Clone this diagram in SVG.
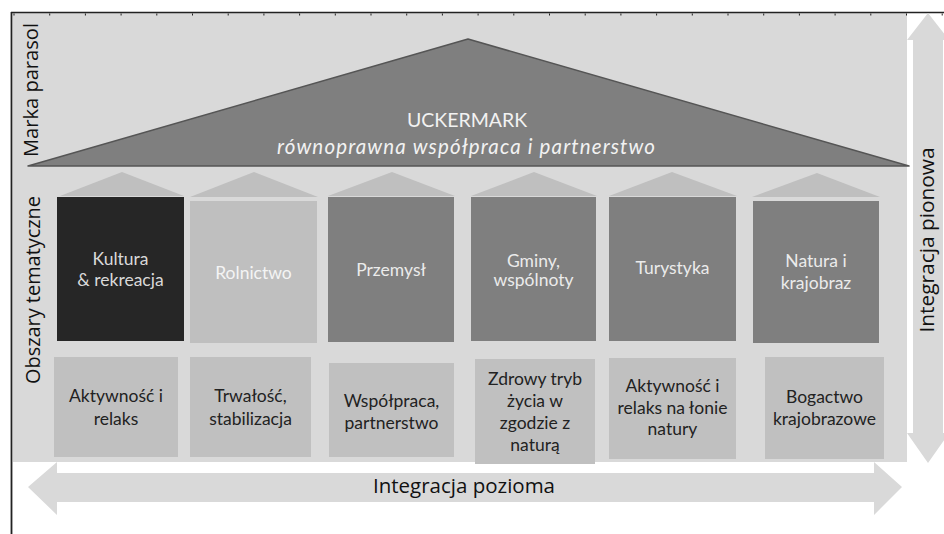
<svg xmlns="http://www.w3.org/2000/svg" width="944" height="534" viewBox="0 0 944 534">
<style>
.lbl{font-family:"Open Sans","Liberation Sans",sans-serif;font-size:20px;fill:#111;}
.col{font-family:Lato,"Liberation Sans",sans-serif;font-size:17.5px;text-anchor:middle;}
.box{font-family:Lato,"Liberation Sans",sans-serif;font-size:17.5px;fill:#222;text-anchor:middle;}
.roof{fill:#bfbfbf;}
.bx{fill:#c0c0c0;}
.arr{fill:#d9d9d9;}
</style>
<rect width="944" height="534" fill="#ffffff"/>
<!-- frame -->
<rect x="13" y="13" width="894" height="449" fill="#d9d9d9"/>
<line x1="11" y1="12.5" x2="944" y2="12.5" stroke="#222" stroke-width="1.5"/>
<line x1="13.5" y1="14.5" x2="944" y2="14.5" stroke="#222" stroke-width="2" stroke-dasharray="1 34.7"/>
<line x1="11.5" y1="12" x2="11.5" y2="534" stroke="#222" stroke-width="1.8"/>

<g id="arrows">
  <path class="arr" d="M28,487 L57,462 L57,473 L874,473 L874,462 L902,487 L874,515 L874,502 L57,502 L57,515 Z"/>
  <path class="arr" d="M928,13 L949,40 L943,40 L943,433 L949,433 L928,463 L907,433 L913,433 L913,40 L907,40 Z"/>
</g>

<g id="umbrella">
  <polygon points="28,166 468,39 909,166" fill="#7f7f7f" stroke="#555" stroke-width="1.5" stroke-linejoin="round"/>
  <text x="467" y="127" font-family="Lato,'Liberation Sans',sans-serif" font-size="19.5" fill="#f2f2f2" text-anchor="middle">UCKERMARK</text>
  <text x="466" y="154" font-family="Lato,'Liberation Sans',sans-serif" font-size="20.5" font-style="italic" fill="#f2f2f2" text-anchor="middle" textLength="378" lengthAdjust="spacing">równoprawna współpraca i partnerstwo</text>
</g>

<g id="labels">
  <text class="lbl" transform="rotate(-90 38 90)" x="38" y="90" text-anchor="middle" textLength="134" lengthAdjust="spacingAndGlyphs">Marka parasol</text>
  <text class="lbl" transform="rotate(-90 40 290)" x="40" y="290" text-anchor="middle" textLength="188" lengthAdjust="spacingAndGlyphs">Obszary tematyczne</text>
  <text class="lbl" transform="rotate(-90 934 240)" x="934" y="240" text-anchor="middle" textLength="185" lengthAdjust="spacingAndGlyphs">Integracja pionowa</text>
  <text class="lbl" x="464" y="493" text-anchor="middle" textLength="182" lengthAdjust="spacingAndGlyphs">Integracja pozioma</text>
</g>

<g id="col-kultura">
  <polygon class="roof" points="60,196 122,172 184,196"/>
  <rect x="57" y="197" width="127" height="144" fill="#262626"/>
  <text class="col" fill="#d9d9d9" x="120.5" y="265">Kultura</text>
  <text class="col" fill="#d9d9d9" x="120.5" y="286">&amp; rekreacja</text>
</g>
<g id="col-rolnictwo">
  <polygon class="roof" points="190,197 254,172 318,197"/>
  <rect x="190" y="201" width="127" height="142" fill="#bfbfbf"/>
  <text class="col" fill="#f4f4f4" x="253.5" y="279">Rolnictwo</text>
</g>
<g id="col-przemysl">
  <polygon class="roof" points="328,196 392,172 455,196"/>
  <rect x="328" y="197" width="126" height="145" fill="#7f7f7f"/>
  <text class="col" fill="#ebebeb" x="391" y="276">Przemysł</text>
</g>
<g id="col-gminy">
  <polygon class="roof" points="471,196 534,172 597,196"/>
  <rect x="471" y="197" width="125" height="144" fill="#7f7f7f"/>
  <text class="col" fill="#ebebeb" x="533.5" y="267">Gminy,</text>
  <text class="col" fill="#ebebeb" x="533.5" y="286">wspólnoty</text>
</g>
<g id="col-turystyka">
  <polygon class="roof" points="609,196 672,172 737,196"/>
  <rect x="609" y="197" width="127" height="144" fill="#7f7f7f"/>
  <text class="col" fill="#ebebeb" x="672.5" y="274">Turystyka</text>
</g>
<g id="col-natura">
  <polygon class="roof" points="752,197 817,173 880,197"/>
  <rect x="753" y="201" width="126" height="142" fill="#7f7f7f"/>
  <text class="col" fill="#ebebeb" x="816" y="267">Natura i</text>
  <text class="col" fill="#ebebeb" x="816" y="289">krajobraz</text>
</g>

<g id="box-aktywnosc">
  <rect class="bx" x="54" y="357" width="124" height="100"/>
  <text class="box" x="116" y="402">Aktywność i</text>
  <text class="box" x="116" y="425">relaks</text>
</g>
<g id="box-trwalosc">
  <rect class="bx" x="190" y="357" width="121" height="100"/>
  <text class="box" x="250.5" y="402">Trwałość,</text>
  <text class="box" x="250.5" y="425">stabilizacja</text>
</g>
<g id="box-wspolpraca">
  <rect class="bx" x="329" y="363" width="125" height="94"/>
  <text class="box" x="391.5" y="407">Współpraca,</text>
  <text class="box" x="391.5" y="429">partnerstwo</text>
</g>
<g id="box-zdrowy">
  <rect class="bx" x="475" y="359" width="120" height="105"/>
  <text class="box" x="535" y="385">Zdrowy tryb</text>
  <text class="box" x="535" y="407">życia w</text>
  <text class="box" x="535" y="429">zgodzie z</text>
  <text class="box" x="535" y="451">naturą</text>
</g>
<g id="box-relaks">
  <rect class="bx" x="609" y="358" width="127" height="101"/>
  <text class="box" x="672.5" y="392">Aktywność i</text>
  <text class="box" x="672.5" y="414">relaks na łonie</text>
  <text class="box" x="672.5" y="435">natury</text>
</g>
<g id="box-bogactwo">
  <rect class="bx" x="765" y="357" width="119" height="102"/>
  <text class="box" x="824.5" y="403">Bogactwo</text>
  <text class="box" x="824.5" y="425">krajobrazowe</text>
</g>
</svg>
